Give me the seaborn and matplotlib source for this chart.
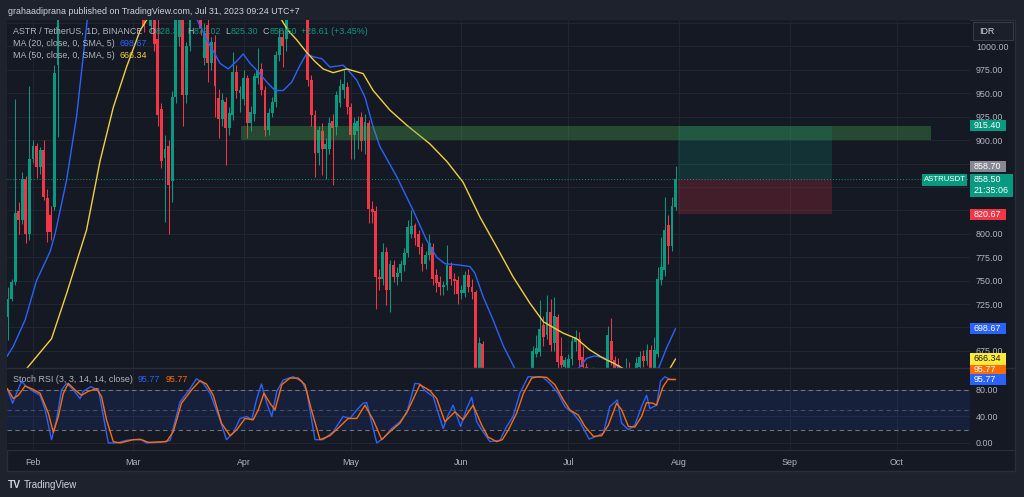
import numpy as np
import pandas as pd
import matplotlib
matplotlib.use("Agg")
import matplotlib.pyplot as plt
import matplotlib.dates as mdates
from matplotlib.patches import Rectangle
from matplotlib.lines import Line2D
from matplotlib import font_manager
import seaborn as sns

W, H = 1024, 497

# ---- daily candles ASTR/USDT in IDR, 25 Jan .. 31 Jul 2023 ----
first_day = "2023-01-25"
last_day = "2023-07-31"

opens = [711, 730, 749, 824, 815, 859, 800, 880, 894, 871,
         889, 838, 820, 829, 980, 1045, 1105, 1160, 1210, 1180,
         1280, 1320, 1250, 1270, 1240, 1260, 1170, 1130, 1160, 1100,
         1120, 1095, 1110, 1075, 1090, 1060, 1080, 1055, 1065, 1040,
         1022, 1036, 1008, 933, 881, 894, 856, 946, 1010, 1040,
         948, 1000, 1040, 1070, 1055, 988, 1023, 982, 1005, 945,
         923, 941, 913, 927, 973, 950, 944, 966, 918, 928,
         966, 976, 953, 911, 929, 941, 991, 1010, 1008, 1035,
         1065, 1090, 1075, 1060, 1050, 964, 927, 886, 910, 890,
         890, 920, 914, 940, 953, 957, 935, 905, 910, 925,
         899, 918, 827, 824, 754, 752, 781, 740, 767, 754,
         758, 767, 779, 800, 809, 800, 786, 768, 777, 786,
         756, 749, 743, 745, 766, 752, 751, 737, 737, 756,
         743, 738, 640, 682, 640, 620, 632, 618, 605, 620,
         640, 628, 636, 645, 635, 642, 638, 645, 672, 674,
         703, 692, 717, 683, 711, 670, 658, 657, 666, 684,
         688, 668, 658, 640, 645, 650, 636, 648, 652, 685,
         665, 660, 648, 640, 650, 645, 652, 658, 670, 664,
         676, 656, 672, 751, 761, 809, 787, 828.32]
highs = [743, 752, 944, 834, 866, 862, 958, 900, 897, 893,
         900, 848, 830, 980, 1060, 1120, 1180, 1230, 1260, 1300,
         1350, 1340, 1290, 1310, 1280, 1275, 1200, 1180, 1170, 1140,
         1150, 1130, 1125, 1110, 1105, 1095, 1090, 1075, 1070, 1055,
         1045, 1045, 1030, 940, 905, 900, 952, 1045, 1065, 1050,
         1005, 1048, 1080, 1090, 1065, 1025, 1030, 1010, 1012, 955,
         950, 946, 935, 994, 980, 958, 975, 970, 936, 972,
         998, 982, 958, 934, 946, 995, 1020, 1018, 1050, 1075,
         1110, 1120, 1100, 1085, 1060, 970, 932, 915, 918, 902,
         925, 928, 952, 965, 975, 962, 940, 925, 926, 930,
         928, 922, 835, 830, 762, 790, 786, 772, 772, 765,
         772, 785, 815, 825, 812, 804, 790, 782, 800, 790,
         762, 755, 750, 788, 770, 758, 755, 745, 760, 762,
         752, 740, 690, 686, 652, 640, 648, 630, 625, 645,
         650, 642, 650, 652, 648, 654, 652, 680, 692, 729,
         712, 735, 730, 733, 714, 690, 668, 672, 690, 697,
         695, 680, 662, 652, 658, 655, 650, 655, 702, 710,
         670, 667, 655, 667, 663, 655, 668, 675, 676, 682,
         681, 690, 765, 797, 839, 820, 839, 872.02]
lows = [687, 728, 745, 800, 810, 790, 793, 876, 860, 864,
        836, 791, 793, 825, 903, 1035, 1090, 1130, 1150, 1170,
        1240, 1220, 1200, 1230, 1190, 1150, 1110, 1100, 1080, 1070,
        1085, 1070, 1060, 1055, 1045, 1050, 1040, 1035, 1015, 1030,
        1015, 995, 915, 870, 813, 800, 834, 940, 1000, 915,
        940, 995, 1032, 1035, 1012, 980, 962, 975, 925, 902,
        915, 873, 905, 922, 945, 930, 938, 902, 910, 920,
        960, 948, 904, 906, 925, 935, 985, 978, 995, 1032,
        1050, 1060, 1045, 1040, 958, 915, 861, 873, 863, 859,
        885, 852, 905, 935, 945, 928, 880, 880, 890, 888,
        885, 812, 812, 720, 740, 745, 724, 717, 748, 745,
        750, 760, 775, 796, 788, 778, 760, 762, 772, 745,
        738, 735, 735, 740, 745, 736, 725, 730, 732, 738,
        730, 625, 630, 628, 610, 600, 612, 596, 598, 615,
        622, 618, 628, 630, 625, 632, 630, 630, 668, 670,
        680, 688, 675, 675, 655, 650, 648, 648, 660, 675,
        655, 645, 635, 628, 632, 630, 625, 638, 645, 660,
        645, 640, 632, 635, 638, 632, 645, 652, 658, 660,
        648, 650, 668, 745, 755, 768, 782, 825.30]
closes = [730, 749, 822, 815, 859, 800, 880, 894, 871, 889,
          839, 802, 802, 972, 1045, 1105, 1160, 1210, 1180, 1280,
          1320, 1250, 1270, 1240, 1260, 1170, 1130, 1160, 1100, 1120,
          1095, 1110, 1075, 1090, 1060, 1080, 1055, 1065, 1022, 1032,
          1036, 1003, 927, 878, 890, 852, 946, 1035, 1045, 948,
          1001, 1040, 1070, 1055, 1020, 1014, 982, 1005, 958, 923,
          943, 913, 929, 973, 952, 953, 966, 918, 930, 968,
          975, 953, 911, 929, 941, 991, 1010, 1000, 1035, 1065,
          1090, 1075, 1060, 1050, 964, 927, 886, 911, 890, 896,
          918, 913, 948, 958, 960, 935, 905, 918, 920, 899,
          919, 827, 823, 754, 752, 781, 740, 768, 754, 758,
          768, 779, 807, 808, 795, 786, 768, 777, 790, 752,
          747, 743, 745, 767, 752, 750, 736, 740, 756, 743,
          738, 640, 683, 640, 620, 632, 618, 605, 620, 640,
          628, 636, 645, 635, 642, 638, 645, 675, 678, 698,
          690, 717, 681, 712, 663, 660, 665, 666, 685, 690,
          665, 658, 640, 645, 650, 636, 648, 652, 692, 665,
          652, 648, 640, 650, 645, 650, 662, 668, 664, 676,
          656, 676, 752, 765, 804, 787, 829.89, 858.50]

# ---- moving averages, sampled along the drawn lines (days from 1 Feb 2023) ----
ma20_days = [-7.3, -5.5, -2.2, 1.0, 4.8, 6.2, 9.4, 12.2, 15.2, 20, 30, 40,
             45.8, 48.6, 52.4, 54.7, 57.0, 58.9, 60.8, 63.1, 65.5, 67.8, 70.1,
             72.5, 74.8, 76.6, 78.5, 80.9, 83.2, 86.9, 88.0, 90.7, 93.0, 95.3,
             97.2, 101.9, 106.5, 110.3, 113.1, 115.4, 118.7, 122.4, 123.8, 126.1,
             128.9, 131.8, 135.0, 140, 145, 150, 153.0, 155.1, 157.2, 159.8,
             162.6, 164.4, 168, 172, 175.3, 177.6, 180]
ma20_vals = [669, 680, 708, 750, 781, 800, 857, 925, 1028, 1120, 1180, 1090,
             1030, 1008, 982, 976, 984, 992, 982, 973, 962, 953, 953,
             962, 980, 992, 989, 987, 978, 980, 976, 964, 946, 914,
             893, 861, 825, 793, 775, 768, 767, 765, 758, 733,
             708, 680, 656, 636, 640, 650, 657, 667, 669.5, 668,
             662, 656, 650, 652, 657, 679, 698.67]
ma50_days = [-7.3, -1.8, 5.2, 9.4, 15.0, 18.8, 22.5, 26.2, 30.0, 31.8, 40, 50,
             60, 69.7, 71.5, 73.9, 76.6, 79.0, 81.3, 84.1, 86.9, 88.0, 90.7,
             92.5, 95.3, 100.0, 104.7, 111.2, 116.0, 120.5, 125.2, 129.9, 134.5,
             139.2, 143.0, 148.5, 152.3, 156.0, 159.8, 162.6, 165.4, 170, 175,
             178.4, 180]
ma50_vals = [628, 656, 688, 736, 804, 878, 935, 978, 1017, 1028, 1070, 1090,
             1075, 1028, 1017, 1007, 994, 984, 976, 972, 975, 976, 973,
             971, 953, 932, 916, 896, 877, 855, 818, 786, 754,
             726, 706, 694, 688, 676, 667, 662, 656, 648, 647,
             656, 666.34]

# ---- Stoch RSI %K and %D ----
k_days = [-7.2, -5.7, -4.6, -3.2, -1.8, 0.1, 2.0, 3.4, 5.2, 6.6,
          8.0, 9.4, 11.3, 13.2, 14.1, 16.2, 17.4, 18.3, 21.1, 23.4,
          26.2, 30.0, 31.8, 35.6, 38.4, 41.2, 44.0, 45.8, 47.7, 49.6,
          52.4, 54.2, 56.1, 58.0, 59.9, 61.3, 62.6, 64.0, 65.5, 66.9,
          68.3, 70.1, 72.9, 75.3, 76.7, 79.0, 81.3, 84.1, 86.9, 88.8,
          90.7, 92.5, 93.5, 96.3, 98.1, 100.5, 102.8, 104.7, 107.0, 108.4,
          109.8, 112.1, 114.9, 116.3, 117.7, 119.8, 121.5, 122.9, 124.3, 125.7,
          128.0, 130.8, 132.7, 134.5, 136.4, 138.7, 140.1, 142.9, 144.8, 147.1,
          149.0, 151.3, 153.2, 155.8, 157.4, 159.8, 161.6, 163.7, 164.9, 166.8,
          168.6, 170.5, 171.9, 172.8, 174.7, 175.8, 177.0, 178.4, 180.0]
k_vals = [82, 60, 75, 93, 85, 78, 72, 50, 5, 35,
          80, 90, 80, 67, 78, 85, 82, 82, 0, 0,
          4, 6, 0, 1, 4, 62, 82, 97, 90, 75,
          35, 5, 15, 37, 40, 35, 65, 89, 60, 40,
          78, 95, 100, 93, 78, 5, 5, 17, 40, 37,
          50, 60, 61, 0, 7, 22, 32, 45, 90, 89,
          79, 70, 22, 42, 57, 25, 52, 69, 32, 20,
          2, 4, 25, 40, 75, 100, 100, 99, 90, 75,
          55, 45, 32, 6, 9, 15, 55, 65, 30, 20,
          27, 55, 72, 52, 57, 93, 100, 96, 95.77]
d_days = [-7.2, -5.5, -4.1, -2.2, -0.4, 2.0, 4.3, 5.7, 7.1, 8.5,
          9.9, 11.8, 13.6, 15.5, 17.8, 19.2, 20.6, 22.5, 24.4, 28.1,
          30.4, 32.3, 37.4, 39.3, 41.6, 44.4, 46.8, 48.6, 50.5, 52.8,
          55.2, 57.1, 59.4, 61.7, 63.1, 64.7, 66.4, 67.8, 69.7, 72.0,
          74.3, 76.2, 78.0, 80.4, 83.2, 86.0, 88.3, 90.7, 93.0, 95.3,
          97.7, 100.0, 102.8, 105.1, 108.4, 111.2, 113.1, 115.4, 118.2, 120.5,
          123.3, 125.7, 127.5, 129.9, 131.5, 133.2, 135.5, 137.4, 139.7, 141.5,
          143.9, 146.2, 148.6, 150.4, 152.8, 154.6, 157.0, 159.3, 161.2, 163.5,
          164.9, 166.8, 168.6, 170.5, 171.9, 173.7, 174.7, 176.5, 177.9, 180.0]
d_vals = [82, 67, 72, 86, 82, 75, 45, 16, 40, 75,
          90, 80, 72, 78, 82, 70, 35, 2, 0, 5,
          5, 1, 2, 17, 60, 80, 94, 89, 72, 30,
          11, 20, 37, 35, 50, 75, 60, 50, 88, 98,
          98, 88, 50, 5, 11, 25, 37, 37, 57, 35,
          5, 17, 30, 50, 88, 79, 67, 32, 47, 35,
          57, 27, 9, 2, 5, 20, 45, 75, 98, 100,
          99, 88, 65, 50, 42, 25, 10, 11, 27, 60,
          50, 25, 24, 40, 61, 60, 57, 85, 96, 95.77]

# ---- drawings and readouts ----
zone_days = (58.3, 251.6)
zone_low, zone_high = 900.0, 915.40
pos_days = (180.7, 223.9)
target, entry, stop = 915.40, 858.70, 820.67
last_price = 858.50
ma20_last, ma50_last, stoch_last = 698.67, 666.34, 95.77
price_ticks = [675, 700, 725, 750, 775, 800, 825, 850, 875, 900, 925, 950, 975, 1000, 1025]
hidden_ticks = [700, 825, 850, 875, 1025]
stoch_ticks = [0, 40, 80]

BG_OUT = "#1e222d"
BG = "#151924"
BORDER = "#2a2e39"
GRID = "#21252f"
TXT = "#b2b5be"
HEAD = "#d1d4dc"
UP = "#089981"
DOWN = "#f23645"
BLUE = "#2962ff"
YEL = "#f2d03b"
ORANGE = "#ff6d00"

sns.set_theme(style="dark")
installed = {f.name for f in font_manager.fontManager.ttflist}
if "Liberation Sans Narrow" in installed:
    plt.rcParams["font.family"] = ["Liberation Sans Narrow", "DejaVu Sans"]
    FS = 7.3
else:
    plt.rcParams["font.family"] = ["Liberation Sans", "DejaVu Sans"]
    FS = 6.4

fig = plt.figure(figsize=(W / 100, H / 100), dpi=100)
fig.patch.set_facecolor(BG_OUT)


def box(x0, y0, x1, y1):
    return [x0 / W, 1 - y1 / H, (x1 - x0) / W, (y1 - y0) / H]


def fig_rect(x0, y0, x1, y1, **kw):
    fig.add_artist(Rectangle((x0 / W, 1 - y1 / H), (x1 - x0) / W, (y1 - y0) / H,
                             transform=fig.transFigure, **kw))


def fig_line(x0, y0, x1, y1, **kw):
    fig.add_artist(Line2D([x0 / W, x1 / W], [1 - y0 / H, 1 - y1 / H],
                          transform=fig.transFigure, **kw))


def fig_txt(x, y, s, **kw):
    kw.setdefault("fontsize", FS)
    kw.setdefault("va", "center")
    kw.setdefault("ha", "left")
    return fig.text(x / W, 1 - y / H, s, **kw)


# chart frame
fig_rect(7, 19.5, 1015, 470.5, facecolor=BG, edgecolor=BORDER, lw=1, zorder=-10)

ax = fig.add_axes(box(7, 19.5, 970, 368))
ax2 = fig.add_axes(box(7, 368, 970, 450), sharex=ax)
for a in (ax, ax2):
    a.set_facecolor(BG)
    for s in a.spines.values():
        s.set_visible(False)

base = mdates.date2num(pd.Timestamp("2023-02-01"))


def dnum(days):
    return base + np.asarray(days, dtype=float)


cx = mdates.date2num(pd.date_range(first_day, last_day, freq="D"))
o, h, l, c = (np.asarray(v, dtype=float) for v in (opens, highs, lows, closes))
col = np.where(c >= o, UP, DOWN)

ax.set_xlim(dnum(-7.28), dnum(262.5))
ax.set_ylim(656.7, 1028.8)

ax.vlines(cx, l, h, colors=col, lw=0.75, zorder=2)
ax.bar(cx, np.maximum(np.abs(c - o), 0.9), bottom=np.minimum(o, c), width=0.8,
       color=col, lw=0, zorder=3)

sns.lineplot(x=dnum(ma20_days), y=ma20_vals, ax=ax, color=BLUE, lw=1.0,
             estimator=None, sort=False, legend=False, zorder=4)
sns.lineplot(x=dnum(ma50_days), y=ma50_vals, ax=ax, color=YEL, lw=1.0,
             estimator=None, sort=False, legend=False, zorder=4)

# resistance zone and long-position tool
ax.add_patch(Rectangle((dnum(zone_days[0]), zone_low), zone_days[1] - zone_days[0],
                       zone_high - zone_low, facecolor="#4caf50", alpha=0.32, lw=0, zorder=5))
ax.add_patch(Rectangle((dnum(pos_days[0]), entry), pos_days[1] - pos_days[0],
                       target - entry, facecolor=UP, alpha=0.2, lw=0, zorder=5))
ax.add_patch(Rectangle((dnum(pos_days[0]), stop), pos_days[1] - pos_days[0],
                       entry - stop, facecolor=DOWN, alpha=0.2, lw=0, zorder=5))
ax.axhline(last_price, color=UP, lw=0.7, ls=(0, (1, 2)), zorder=6)

ax.xaxis.set_major_locator(mdates.MonthLocator())
ax.set_yticks(price_ticks)
ax.set_yticklabels(["" if t in hidden_ticks else f"{t:.2f}" for t in price_ticks])
ax.yaxis.tick_right()
ax.tick_params(axis="y", length=0, pad=4.3, labelsize=FS, labelcolor=TXT)
ax.tick_params(axis="x", length=0, labelbottom=False)
ax.grid(True, color=GRID, lw=0.8)
ax.set_xlabel("")
ax.set_ylabel("")

# Stoch RSI pane
ax2.set_ylim(-10.6, 113.2)
ax2.axhspan(20, 80, color=BLUE, alpha=0.1, lw=0, zorder=1)
for lvl, al in ((80, 0.9), (50, 0.5), (20, 0.9)):
    ax2.axhline(lvl, color="#787b86", lw=0.8, ls=(0, (4, 3)), alpha=al, zorder=2)
sns.lineplot(x=dnum(k_days), y=k_vals, ax=ax2, color=BLUE, lw=1.0,
             estimator=None, sort=False, legend=False, zorder=4)
sns.lineplot(x=dnum(d_days), y=d_vals, ax=ax2, color=ORANGE, lw=1.0,
             estimator=None, sort=False, legend=False, zorder=4)
ax2.set_yticks(stoch_ticks)
ax2.set_yticklabels([f"{t:.2f}" for t in stoch_ticks])
ax2.yaxis.tick_right()
ax2.tick_params(axis="y", length=0, pad=4.3, labelsize=FS, labelcolor=TXT)
ax2.xaxis.set_major_locator(mdates.MonthLocator())
ax2.xaxis.set_major_formatter(mdates.DateFormatter("%b"))
ax2.tick_params(axis="x", length=0, pad=5.5, labelsize=FS, labelcolor=TXT)
ax2.grid(True, color=GRID, lw=0.8)
ax2.set_xlabel("")
ax2.set_ylabel("")

# pane separators
fig_line(7, 368, 1015, 368, color=BORDER, lw=1)
fig_line(7, 450, 1015, 450, color=BORDER, lw=0.8)


def ypix(axis, val):
    return H - axis.transData.transform((0, val))[1]


def tag(axis, val, text, bg, fg="white", dy=0.0, x0=970, x1=1006, hh=11.5):
    y = ypix(axis, val) + dy
    fig_rect(x0, y - hh / 2, x1, y + hh / 2, facecolor=bg, lw=0, zorder=5)
    fig_txt(x0 + 3.5, y, text, color=fg, zorder=6)


# price scale tags
tag(ax, target, f"{target:.2f}", UP)
tag(ax, entry, f"{entry:.2f}", "#868993", dy=-12.5)
yl = ypix(ax, last_price)
fig_rect(970, yl - 5, 1013, yl + 18, facecolor=UP, lw=0, zorder=5)
fig_txt(973.5, yl + 1, f"{last_price:.2f}", color="white", zorder=6)
fig_txt(973.5, yl + 12, "21:35:06", color="white", zorder=6)
fig_rect(922, yl - 5, 967, yl + 7, facecolor=UP, lw=0, zorder=5)
fig_txt(944.5, yl + 1, "ASTRUSDT", color="white", ha="center", fontsize=FS - 0.8, zorder=6)
tag(ax, stop, f"{stop:.2f}", DOWN)
tag(ax, ma20_last, f"{ma20_last:.2f}", BLUE)
tag(ax2, stoch_last, f"{stoch_last:.2f}", ORANGE, dy=-10)
tag(ax, ma50_last, f"{ma50_last:.2f}", "#ffeb3b", fg="#131722")
tag(ax2, stoch_last, f"{stoch_last:.2f}", BLUE)

# currency button
fig_rect(973, 22, 1013, 40, facecolor="#1b1f2a", edgecolor="#363a45", lw=0.8, zorder=5)
fig_txt(979, 31, "IDR", color=HEAD, zorder=6)

# header / legends
renderer = fig.canvas.get_renderer()


def chain(x, y, parts):
    for s, cl, gap in parts:
        t = fig_txt(x, y, s, color=cl, zorder=7)
        x += t.get_window_extent(renderer).width + gap


fig_txt(8, 11, "grahaadiprana published on TradingView.com, Jul 31, 2023 09:24 UTC+7", color=HEAD)
chain(13, 31, [("ASTR / TetherUS, 1D, BINANCE", TXT, 6),
               ("O", TXT, 0.5), ("828.32", UP, 4),
               ("H", TXT, 0.5), ("872.02", UP, 4),
               ("L", TXT, 0.5), ("825.30", UP, 4),
               ("C", TXT, 0.5), ("858.50", UP, 4),
               ("+28.61 (+3.45%)", UP, 0)])
chain(13, 43, [("MA (20, close, 0, SMA, 5)", TXT, 5), (f"{ma20_last:.2f}", BLUE, 0)])
chain(13, 55, [("MA (50, close, 0, SMA, 5)", TXT, 5), (f"{ma50_last:.2f}", YEL, 0)])
chain(13, 380, [("Stoch RSI (3, 3, 14, 14, close)", TXT, 5),
                (f"{stoch_last:.2f}", BLUE, 5), (f"{stoch_last:.2f}", ORANGE, 0)])

# footer logo
fig_txt(8, 485, "TV", color=HEAD, fontsize=FS + 1, fontweight="bold")
fig_txt(24, 485, "TradingView", color=HEAD, fontsize=FS + 0.6)

fig.savefig("out.png", dpi=100, facecolor=BG_OUT)
